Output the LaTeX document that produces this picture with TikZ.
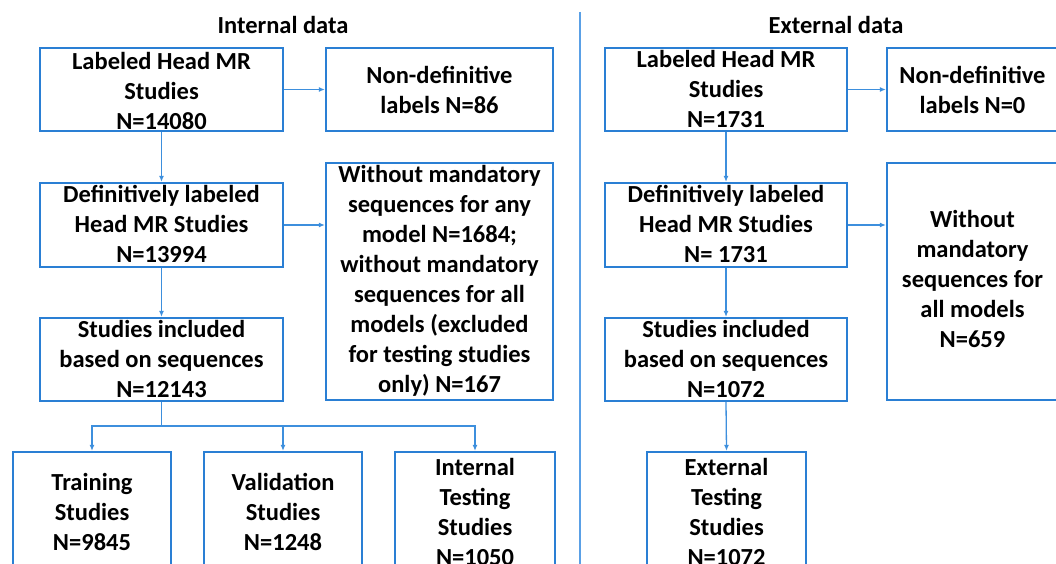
\documentclass[tikz,border=0pt]{standalone}
\usepackage{fontspec}
\setmainfont{Carlito}
\usetikzlibrary{arrows.meta}
\definecolor{boxblue}{HTML}{2A7FD4}
\definecolor{arrblue}{HTML}{3D8FDD}
\definecolor{divblue}{HTML}{5AA0E6}
\tikzset{
  boxnode/.style={draw=boxblue, line width=2.2pt, rectangle, inner sep=0pt},
  txt/.style={align=center, inner sep=0pt, font=\fontsize{24.5}{30}\selectfont\bfseries},
  arr/.style={draw=arrblue, line width=1.3pt, -{Latex[length=6pt,width=5pt]}},
  plainline/.style={draw=arrblue, line width=1.3pt},
}
\begin{document}
\begin{tikzpicture}[x=1pt,y=-1pt]
\useasboundingbox (0,0) rectangle (1056,564);
% titles
\node[txt] (tin) at (283,25) {Internal data};
\node[txt] (tex) at (836,25) {External data};
% divider
\coordinate (dtop) at (580,12);
\coordinate (dbot) at (580,570);
\draw[draw=divblue, line width=1.3pt] (dtop) -- (dbot);
% internal boxes
\node[boxnode, minimum width=243, minimum height=83] (A) at (161.5,89.5) {};
\node[txt] at (91.5,91) [anchor=center, xshift=70pt] {Labeled Head MR\\Studies\\N=14080};
\node[boxnode, minimum width=227, minimum height=83] (B) at (439.5,89.5) {};
\node[txt] at (B) {Non-definitive\\labels N=86};
\node[boxnode, minimum width=243, minimum height=84] (C) at (161.5,225) {};
\node[txt] at ([yshift=1pt]C) {Definitively labeled\\Head MR Studies\\N=13994};
\node[boxnode, minimum width=227, minimum height=237] (D) at (439.5,281.5) {};
\node[txt] at ([yshift=1pt]D) {Without mandatory\\sequences for any\\model N=1684;\\without mandatory\\sequences for all\\models (excluded\\for testing studies\\only) N=167};
\node[boxnode, minimum width=243, minimum height=83] (E) at (161.5,359.5) {};
\node[txt] at ([yshift=1pt]E) {Studies included\\based on sequences\\N=12143};
\node[boxnode, minimum width=158, minimum height=120] (T1) at (92,512) {};
\node[txt] at (T1) {Training\\Studies\\N=9845};
\node[boxnode, minimum width=158, minimum height=120] (T2) at (283,512) {};
\node[txt] at (T2) {Validation\\Studies\\N=1248};
\node[boxnode, minimum width=160, minimum height=120] (T3) at (475,512) {};
\node[txt] at (T3) {Internal\\Testing\\Studies\\N=1050};
% internal connectors
\draw[arr] (A.east) -- (B.west);
\draw[arr] (A.south) -- (C.north);
\draw[arr] (C.east) -- (C.east -| D.west);
\draw[arr] (C.south) -- (E.north);
\coordinate (br) at (161.5,426);
\draw[plainline] (E.south) -- (br);
\draw[arr] (br) -| (T1.north);
\draw[arr] (br) -| (T2.north);
\draw[arr] (br) -| (T3.north);
% external boxes
\node[boxnode, minimum width=242, minimum height=83] (XA) at (726,89.5) {};
\node[txt] at ([yshift=1pt]XA) {Labeled Head MR\\Studies\\N=1731};
\node[boxnode, minimum width=171, minimum height=83] (XB) at (972.5,89.5) {};
\node[txt] at (XB) {Non-definitive\\labels N=0};
\node[boxnode, minimum width=242, minimum height=84] (XC) at (726,225) {};
\node[txt] at ([yshift=1pt]XC) {Definitively labeled\\Head MR Studies\\N= 1731};
\node[boxnode, minimum width=171, minimum height=237] (XD) at (972.5,281.5) {};
\node[txt] at ([yshift=3pt]XD) {Without\\mandatory\\sequences for\\all models\\N=659};
\node[boxnode, minimum width=242, minimum height=83] (XE) at (726,359.5) {};
\node[txt] at ([yshift=1pt]XE) {Studies included\\based on sequences\\N=1072};
\node[boxnode, minimum width=159, minimum height=120] (XT) at (726.5,512) {};
\node[txt] at (XT) {External\\Testing\\Studies\\N=1072};
% external connectors
\draw[arr] (XA.east) -- (XB.west);
\draw[arr] (XA.south) -- (XC.north);
\draw[arr] (XC.east) -- (XC.east -| XD.west);
\draw[arr] (XC.south) -- (XE.north);
\draw[arr] (XE.south) -- (XT.north);
\end{tikzpicture}
\end{document}
